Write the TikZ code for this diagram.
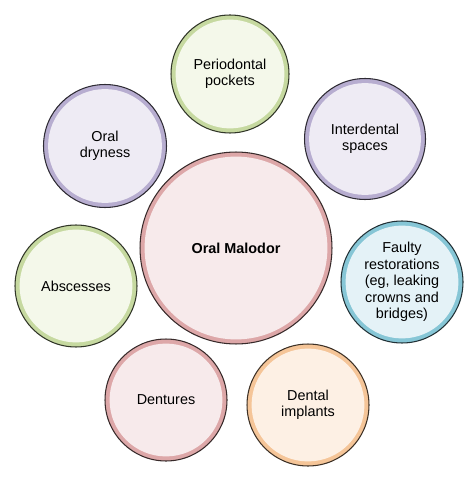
\documentclass[tikz,border=0pt]{standalone}
\usepackage{fontspec}
\setmainfont{Liberation Sans}
\definecolor{pinkfill}{HTML}{F7EAEB}
\definecolor{pinkrim}{HTML}{DDA7A8}
\definecolor{greenfill}{HTML}{F4F8EA}
\definecolor{greenrim}{HTML}{C6D9A0}
\definecolor{purplefill}{HTML}{EEEBF4}
\definecolor{purplerim}{HTML}{B7ADD0}
\definecolor{bluefill}{HTML}{E4F2F7}
\definecolor{bluerim}{HTML}{86C6D6}
\definecolor{orangefill}{HTML}{FDF0E4}
\definecolor{orangerim}{HTML}{F5C598}
\tikzset{
  bubble/.style 2 args={circle, inner sep=0pt, minimum size=2*#2,
    fill=#1rim, draw=#1rim!25!black, line width=0.6pt, align=center,
    font=\fontsize{8.2}{9.4}\selectfont,
    path picture={\fill[#1fill] (path picture bounding box.center) circle [radius=#2-2.6pt];}}
}
\begin{document}
\begin{tikzpicture}
    [x=0.02cm, y=-0.02cm]
    \useasboundingbox (0,0) rectangle (474,479);
    \node (malodor) at (236,248) [bubble={pink}{1.92cm}] {\textbf{Oral Malodor}};
    \node (pockets) at (230,74) [bubble={green}{1.18cm}] {Periodontal\\pockets};
    \node (dryness) at (105,146) [bubble={purple}{1.23cm}] {Oral\\dryness};
    \node (spaces) at (365,139) [bubble={purple}{1.21cm}] {Interdental\\spaces};
    \node (restorations) at (402,282) [bubble={blue}{1.22cm}] {Faulty\\restorations\\(eg, leaking\\crowns and\\bridges)};
    \node (abscesses) at (76,286) [bubble={green}{1.22cm}] {Abscesses};
    \node (dentures) at (166,400) [bubble={pink}{1.22cm}] {Dentures};
    \node (implants) at (308,405) [bubble={orange}{1.22cm}] {Dental\\implants};
  \end{tikzpicture}
\end{document}
